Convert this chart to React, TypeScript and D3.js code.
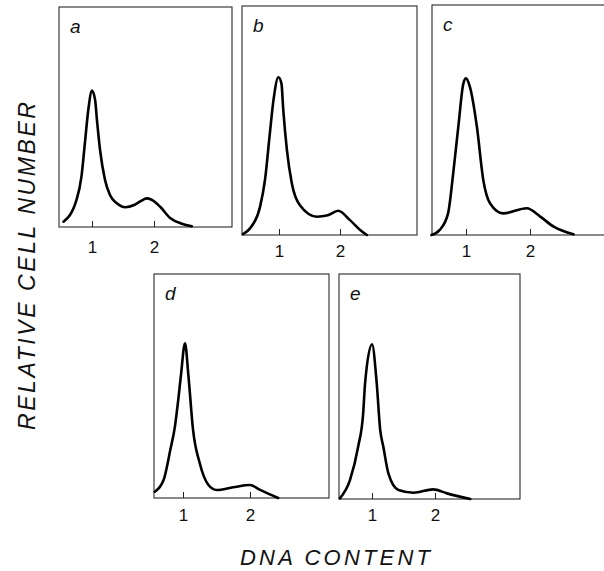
import React, { useRef, useEffect } from 'react';
import * as d3 from 'd3';

// Tick values on the DNA content axis
const tickValues = [1, 2];
const panelLetters = ['a', 'b', 'c', 'd', 'e'];

// DNA content (x) and relative cell number (y, % of panel height)
const dnaA = [0.54, 0.75, 0.83, 0.89, 0.94, 1.0, 1.05, 1.08, 1.13, 1.21, 1.29, 1.4, 1.54, 1.68, 1.8, 1.88, 1.96, 2.1, 2.26, 2.45, 2.61];
const cellsA = [2.4, 12.3, 22.9, 39.5, 53.2, 62, 57.7, 48.6, 35, 21.4, 14.5, 10.8, 9.0, 10.0, 12.0, 13, 12.4, 9.2, 4.1, 1.5, 0.3];

const dnaB = [0.41, 0.525, 0.69, 0.77, 0.85, 0.91, 0.99, 1.04, 1.07, 1.13, 1.21, 1.34, 1.62, 1.8, 1.97, 2.16, 2.33, 2.44];
const cellsB = [0.4, 2.9, 12.4, 24, 44.4, 59, 68.9, 66.2, 54.6, 37.1, 22.6, 13.1, 8, 8.6, 10.6, 6.6, 2.2, 0];

const dnaC = [0.46, 0.59, 0.72, 0.8, 0.88, 0.96, 1.0, 1.06, 1.17, 1.27, 1.375, 1.58, 1.95, 2.16, 2.37, 2.68];
const cellsC = [0, 2.2, 9.4, 26.8, 47.1, 66, 68.1, 64.5, 47.1, 23.9, 13.8, 9.4, 11.6, 8, 3.6, 0.3];

const dnaD = [0.58, 0.71, 0.81, 0.88, 0.93, 0.97, 1.03, 1.08, 1.15, 1.25, 1.38, 1.5, 1.75, 2.0, 2.15, 2.42];
const cellsD = [2.8, 8, 21.4, 32, 44, 55, 69.1, 54.9, 30.4, 15.5, 5.8, 3.6, 4.8, 5.8, 3.6, 0];

const dnaE = [0.49, 0.65, 0.78, 0.86, 0.89, 1.0, 1.075, 1.13, 1.18, 1.26, 1.42, 1.66, 1.97, 2.19, 2.56];
const cellsE = [0.3, 8.4, 23.2, 38.1, 51.4, 68.8, 51.4, 30.7, 23.2, 11.4, 4, 2.8, 4.3, 2.5, 0];

const series = [
  { dna: dnaA, cells: cellsA },
  { dna: dnaB, cells: cellsB },
  { dna: dnaC, cells: cellsC },
  { dna: dnaD, cells: cellsD },
  { dna: dnaE, cells: cellsE },
];

// Panel frames (px) and where ticks 1 and 2 fall
const layout = [
  { left: 59, right: 232, top: 7, bottom: 227, one: 92, two: 154, labelY: 253 },
  { left: 242, right: 417, top: 6, bottom: 235, one: 279, two: 340, labelY: 257 },
  { left: 432, right: 606, top: 5, bottom: 235, one: 466, two: 530, labelY: 257 },
  { left: 154, right: 329, top: 274, bottom: 498, one: 183, two: 250, labelY: 521 },
  { left: 339, right: 520, top: 274, bottom: 499, one: 372, two: 435, labelY: 521 },
];

const font = "'Liberation Sans', Arial, sans-serif";

const App = () => {
  const ref = useRef<HTMLDivElement>(null);

  useEffect(() => {
    const root = d3.select(ref.current);
    root.select('svg').remove();

    const svg = root
      .append('svg')
      .attr('width', 604)
      .attr('height', 571)
      .style('display', 'block')
      .style('background', '#fff');

    layout.forEach((p, i) => {
      const x = d3.scaleLinear().domain(tickValues).range([p.one, p.two]);
      const y = d3.scaleLinear().domain([0, 100]).range([p.bottom, p.top]);
      const g = svg.append('g');

      // frame
      g.append('rect')
        .attr('x', p.left)
        .attr('y', p.top)
        .attr('width', p.right - p.left)
        .attr('height', p.bottom - p.top)
        .attr('fill', 'none')
        .attr('stroke', '#2a2a2a')
        .attr('stroke-width', 1.1);

      // ticks point up into the panel
      const axis = g
        .append('g')
        .attr('transform', `translate(0, ${p.bottom})`)
        .call(
          d3
            .axisBottom(x)
            .tickValues(tickValues)
            .tickFormat(d3.format('d'))
            .tickSizeInner(-6)
            .tickSizeOuter(0)
            .tickPadding(p.labelY - p.bottom - 12)
        )
        .attr('font-family', font)
        .attr('font-size', 17);
      axis.select('.domain').remove();
      axis.selectAll('.tick line').attr('stroke', '#222').attr('stroke-width', 1);
      axis.selectAll('text').attr('fill', '#111');

      // histogram curve
      const pts: [number, number][] = series[i].dna.map((d, j) => [d, series[i].cells[j]]);
      const line = d3
        .line<[number, number]>()
        .x((d) => x(d[0]))
        .y((d) => y(d[1]))
        .curve(d3.curveMonotoneX);
      g.append('path')
        .datum(pts)
        .attr('d', line)
        .attr('fill', 'none')
        .attr('stroke', '#000')
        .attr('stroke-width', 2.6)
        .attr('stroke-linejoin', 'round')
        .attr('stroke-linecap', 'round');

      // panel letter
      g.append('text')
        .attr('x', p.left + 11)
        .attr('y', p.top + 26)
        .attr('font-family', font)
        .attr('font-style', 'italic')
        .attr('font-size', 19)
        .attr('fill', '#111')
        .text(panelLetters[i]);
    });

    // axis titles
    svg
      .append('text')
      .attr('x', 335)
      .attr('y', 565)
      .attr('text-anchor', 'middle')
      .attr('font-family', font)
      .attr('font-style', 'italic')
      .attr('font-size', 22)
      .attr('textLength', 190)
      .attr('lengthAdjust', 'spacing')
      .attr('fill', '#111')
      .text('DNA  CONTENT');

    svg
      .append('text')
      .attr('transform', 'translate(35, 266) rotate(-90)')
      .attr('text-anchor', 'middle')
      .attr('font-family', font)
      .attr('font-style', 'italic')
      .attr('font-size', 23)
      .attr('textLength', 328)
      .attr('lengthAdjust', 'spacing')
      .attr('fill', '#111')
      .text('RELATIVE  CELL  NUMBER');
  }, []);

  return <div ref={ref} style={{ position: 'absolute', left: 0, top: 0 }}></div>;
};

export default App;
